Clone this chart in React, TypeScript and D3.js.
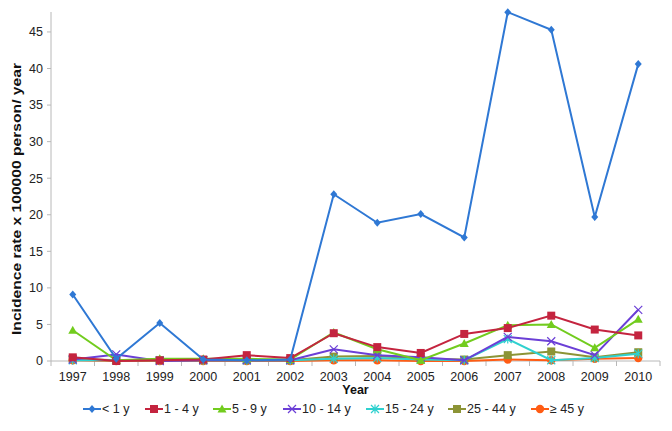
import React from "react";
import * as d3 from "d3";

const years = ["1997","1998","1999","2000","2001","2002","2003","2004","2005","2006","2007","2008","2009","2010"];
const seriesNames = ["< 1 y","1 - 4 y","5 - 9 y","10 - 14 y","15 - 24 y","25 - 44 y","≥ 45 y"];
const lt1 = [9.1,0.3,5.2,0.2,0.1,0.2,22.8,18.9,20.1,16.9,47.7,45.3,19.7,40.6];
const y1to4 = [0.5,0.0,0.1,0.2,0.8,0.4,3.8,1.9,1.1,3.7,4.5,6.2,4.3,3.5];
const y5to9 = [4.2,0.1,0.3,0.3,0.3,0.2,3.9,1.6,0.1,2.4,4.9,5.0,1.8,5.7];
const y10to14 = [0.2,0.9,0.0,0.1,0.1,0.1,1.6,0.8,0.5,0.1,3.3,2.7,0.8,7.0];
const y15to24 = [0.1,0.1,0.1,0.1,0.1,0.1,0.3,0.4,0.2,0.1,3.0,0.1,0.4,1.0];
const y25to44 = [0.3,0.1,0.1,0.1,0.1,0.1,0.6,0.7,0.3,0.2,0.8,1.3,0.5,1.2];
const ge45 = [0.1,0.0,0.0,0.0,0.0,0.0,0.1,0.1,0.0,0.0,0.2,0.1,0.3,0.4];
const yTicks = [0,5,10,15,20,25,30,35,40,45];

const seriesValues = [lt1, y1to4, y5to9, y10to14, y15to24, y25to44, ge45];
const colors = ["#2F78D4","#C4243F","#72CC1E","#6B3FD6","#2FD1CF","#8C9436","#FF5C14"];
const markers = ["diamond","square","triangle","x","star","square","circle"];

function Marker({ kind, x, y, color }: { kind: string; x: number; y: number; color: string }) {
  if (kind === "diamond") {
    return <path d={`M${x},${y - 4}L${x + 3.5},${y}L${x},${y + 4}L${x - 3.5},${y}Z`} fill={color} />;
  }
  if (kind === "square") {
    return <rect x={x - 4} y={y - 4} width={8} height={8} fill={color} />;
  }
  if (kind === "triangle") {
    return <path d={`M${x},${y - 4.5}L${x + 4.5},${y + 3.5}L${x - 4.5},${y + 3.5}Z`} fill={color} />;
  }
  if (kind === "x") {
    return <path d={`M${x - 4},${y - 4}L${x + 4},${y + 4}M${x - 4},${y + 4}L${x + 4},${y - 4}`} stroke={color} strokeWidth={1.2} fill="none" />;
  }
  if (kind === "star") {
    return <path d={`M${x - 4},${y - 4}L${x + 4},${y + 4}M${x - 4},${y + 4}L${x + 4},${y - 4}M${x},${y - 4.5}L${x},${y + 4.5}`} stroke={color} strokeWidth={1.2} fill="none" />;
  }
  return <circle cx={x} cy={y} r={4.2} fill={color} />;
}

export default function App() {
  const W = 672, H = 431;
  const left = 51, right = 660, top = 10, bottom = 361;
  const x = d3.scaleBand<string>().domain(years).range([left, right]);
  const y = d3.scaleLinear().domain([0, 48]).range([bottom, top]);
  const cx = (yr: string) => (x(yr) as number) + x.bandwidth() / 2;
  const line = d3.line<number>().x((_, i) => cx(years[i])).y((v) => y(v));
  const font = "Liberation Sans, Arial, sans-serif";
  const legendX = [83, 145, 213, 283, 366, 448, 531];
  const legendY = 409;
  const boundaries = years.map((_, i) => left + i * x.step()).concat([right]);

  return (
    <svg width={W} height={H} style={{ position: "absolute", left: 0, top: 0 }} fontFamily={font}>
      <rect width={W} height={H} fill="#fff" />
      <line x1={left} x2={left} y1={top + 2} y2={bottom} stroke="#b8b8b8" />
      <line x1={left} x2={right} y1={bottom} y2={bottom} stroke="#b8b8b8" />
      {yTicks.map((t) => (
        <g key={t}>
          <line x1={left - 4} x2={left} y1={y(t)} y2={y(t)} stroke="#b8b8b8" />
          <text x={left - 8} y={y(t)} dy="0.35em" textAnchor="end" fontSize={12.5} fill="#222">{t}</text>
        </g>
      ))}
      {boundaries.map((b, i) => (
        <line key={i} x1={b} x2={b} y1={bottom} y2={bottom + 5} stroke="#b8b8b8" />
      ))}
      {years.map((yr) => (
        <text key={yr} x={cx(yr)} y={bottom + 20} textAnchor="middle" fontSize={12.5} fill="#222">{yr}</text>
      ))}
      <text x={(left + right) / 2} y={394} textAnchor="middle" fontSize={12.5} fontWeight="bold" fill="#111">Year</text>
      <text transform={`translate(21, 199) rotate(-90)`} textAnchor="middle" fontSize={13} fontWeight="bold" fill="#111"
        textLength={272} lengthAdjust="spacingAndGlyphs">
        Incidence rate x 100000 person/ year
      </text>
      {seriesValues.map((vals, si) => si).reverse().map((si) => (
        <g key={si}>
          <path d={line(seriesValues[si]) as string} fill="none" stroke={colors[si]} strokeWidth={2} />
          {seriesValues[si].map((v, i) => (
            <Marker key={i} kind={markers[si]} x={cx(years[i])} y={y(v)} color={colors[si]} />
          ))}
        </g>
      ))}
      {seriesNames.map((name, si) => (
        <g key={name}>
          <line x1={legendX[si]} x2={legendX[si] + 18} y1={legendY} y2={legendY} stroke={colors[si]} strokeWidth={2} />
          <Marker kind={markers[si]} x={legendX[si] + 9} y={legendY} color={colors[si]} />
          <text x={legendX[si] + 19} y={legendY} dy="0.35em" fontSize={12.5} fill="#222">{name}</text>
        </g>
      ))}
    </svg>
  );
}
